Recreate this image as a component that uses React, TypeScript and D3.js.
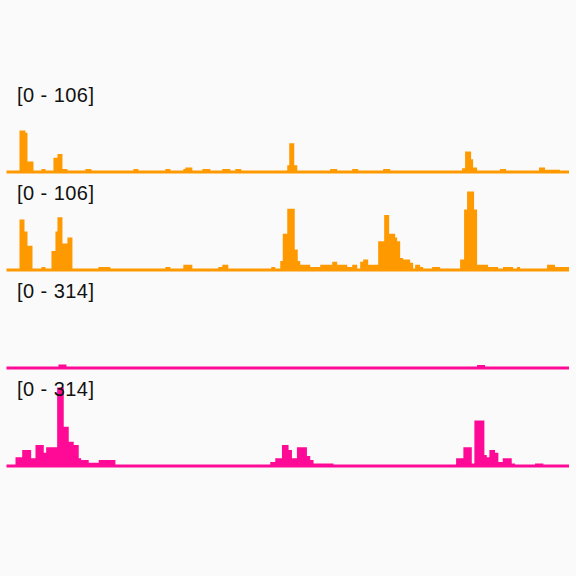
import React from "react";
import * as d3 from "d3";

// Genomic window (kb, relative to region start)
const REGION: [number, number] = [0, 563];

// Track labels (data range) and colours
const trackLabels = ["[0 - 106]", "[0 - 106]", "[0 - 314]", "[0 - 314]"];
const trackMax = [106, 106, 314, 314];
const trackColors = ["#ff9900", "#ff9900", "#ff0a96", "#ff0a96"];

// Coverage segments: [start, end, value]
type Seg = [number, number, number];

const track1: Seg[] = [
  [13, 19, 57], [19, 21, 54], [21, 27, 16], [35, 39, 6], [47, 51, 21], [51, 56, 26],
  [56, 61, 6], [79, 85, 6], [127, 132, 6], [159, 164, 6], [177, 179, 6], [179, 186, 8],
  [196, 204, 6], [216, 224, 6], [229, 235, 6], [281, 283, 11], [283, 288, 40], [288, 291, 11],
  [324, 331, 6], [346, 352, 6], [377, 384, 6], [456, 459, 7], [459, 465, 29], [465, 467, 19],
  [467, 471, 8], [494, 500, 6], [533, 539, 8], [539, 554, 5],
];

const track2: Seg[] = [
  [13, 18, 69], [18, 21, 53], [21, 26, 34], [35, 39, 6], [45, 49, 27], [49, 51, 53],
  [51, 56, 72], [56, 61, 37], [61, 66, 45], [92, 104, 6], [159, 164, 6], [177, 186, 9],
  [212, 216, 6], [216, 222, 9], [265, 269, 6], [274, 276.5, 14], [276.5, 281, 50],
  [281, 288.5, 83], [288.5, 291.5, 29], [291.5, 294, 14], [294, 304, 9], [304, 314, 6],
  [314, 326, 9], [326, 331, 13], [331, 341, 9], [341, 346, 6], [346, 351, 9], [354, 357, 13],
  [357, 362, 16], [362, 372, 9], [372, 378, 40], [378, 383, 75], [383, 389, 50], [389, 391, 45],
  [391, 394, 40], [394, 397, 18], [397, 404, 16], [404, 407, 11.5], [409, 414, 9], [414, 417, 6],
  [426, 434, 6], [454, 458, 16], [458, 461, 82], [461, 468, 106], [468, 471, 82], [471, 482, 9],
  [482, 492, 6], [497, 507, 6], [511, 514, 6], [541, 549, 9], [549, 552, 6], [552, 563, 6],
];

const track3: Seg[] = [
  [52, 60, 20], [471, 479, 18],
];

const track4: Seg[] = [
  [9, 15.7, 40], [15.7, 24.7, 69], [24.7, 29, 36], [29, 37.3, 88], [37.3, 39.7, 58],
  [39.7, 50.7, 79], [50.7, 57.3, 314], [57.3, 62.3, 160], [62.3, 67.3, 101], [67.3, 72.3, 88],
  [72.3, 74.7, 36], [74.7, 82.3, 29], [82.3, 92.3, 19], [92.3, 109, 29],
  [264, 269, 22], [269, 275.7, 36], [275.7, 282.3, 88], [282.3, 285.7, 69], [285.7, 290.7, 36],
  [290.7, 300.7, 79], [300.7, 304, 45], [304, 307.3, 29], [307.3, 327.3, 16],
  [450, 457.3, 36], [457.3, 465.7, 79], [465.7, 468.3, 16], [468.3, 478.3, 184],
  [478.3, 480.7, 49], [480.7, 483.3, 40], [483.3, 489, 69], [489, 492.3, 58], [492.3, 496.7, 22],
  [496.7, 505.7, 36], [505.7, 509, 16], [529, 537.3, 16],
];

const tracks = [track1, track2, track3, track4];

const W = 576;
const H = 576;
const firstBottom = 173.5;
const trackStep = 98;
const trackHeight = 80;
const baseThick = 3;

// Turn sparse segments into a step profile over the whole region (gaps = 0)
function toProfile(segs: Seg[]): { p: number; v: number }[] {
  const pts: { p: number; v: number }[] = [];
  let cur = REGION[0];
  for (const [s, e, v] of segs) {
    if (s > cur) pts.push({ p: cur, v: 0 });
    pts.push({ p: s, v });
    cur = e;
  }
  if (cur < REGION[1]) pts.push({ p: cur, v: 0 });
  pts.push({ p: REGION[1], v: 0 });
  return pts;
}

export default function App() {
  const x = d3.scaleLinear().domain(REGION).range([6.5, 569]);
  return (
    <svg
      width={W}
      height={H}
      style={{ position: "fixed", left: 0, top: 0, display: "block" }}
      xmlns="http://www.w3.org/2000/svg"
    >
      <rect x={0} y={0} width={W} height={H} fill="#fafafa" />
      {tracks.map((segs, i) => {
        const bottom = firstBottom + i * trackStep;
        const y = d3
          .scaleLinear()
          .domain([0, trackMax[i]])
          .range([bottom, bottom - trackHeight]);
        const color = trackColors[i];
        const minTop = bottom - baseThick;
        const area = d3
          .area<{ p: number; v: number }>()
          .curve(d3.curveStepAfter)
          .x((d) => x(d.p))
          .y0(bottom)
          .y1((d) => Math.min(y(d.v), minTop));
        return (
          <g key={i}>
            <path d={area(toProfile(segs)) || ""} fill={color} />
            <text
              x={17}
              y={bottom - 72}
              fontFamily="'Liberation Sans', Arial, sans-serif"
              fontSize={20}
              textLength={77}
              lengthAdjust="spacing"
              fill="#111"
            >
              {trackLabels[i]}
            </text>
          </g>
        );
      })}
    </svg>
  );
}
